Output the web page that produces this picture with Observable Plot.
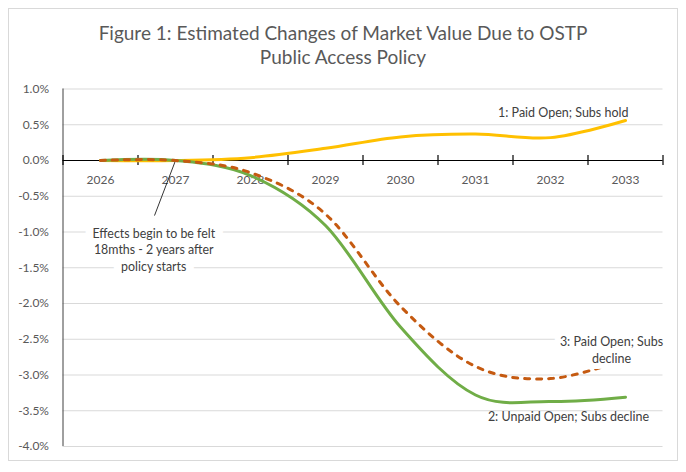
<!DOCTYPE html>
<html>
<head>
<meta charset="utf-8">
<script src="https://cdn.jsdelivr.net/npm/d3@7"></script>
<script src="https://cdn.jsdelivr.net/npm/@observablehq/plot@0.6"></script>
<style>
  html, body { margin: 0; padding: 0; background: #fff; }
  #wrap { position: relative; width: 686px; height: 472px; overflow: hidden; font-family: Lato, "Open Sans", sans-serif; }
  #border { position: absolute; left: 8px; top: 8px; width: 670px; height: 453px; border: 1px solid #d9d9d9; box-sizing: border-box; }
  #title { position: absolute; left: 0; top: 21px; width: 686px; text-align: center; font-size: 19px; line-height: 24px; color: #595959; }
  #chart { position: absolute; left: 0; top: 0; }
</style>
</head>
<body>
<div id="wrap">
  <div id="border"></div>
  <div id="chart"></div>
  <div id="title">Figure 1: Estimated Changes of Market Value Due to OSTP<br>Public Access Policy</div>
</div>
<script>
// ---- data (percent) ----
const years = [2026, 2027, 2028, 2029, 2030, 2031, 2032, 2033];
const paidOpenSubsHold = [0, 0, 0.04, 0.17, 0.33, 0.37, 0.32, 0.56];
const unpaidOpenSubsDecline = [0, 0, -0.21, -0.91, -2.33, -3.28, -3.37, -3.31];
const paidOpenSubsDecline = [0, 0, -0.17, -0.75, -2.04, -2.88, -3.05, -2.78];
const seriesNames = ["1: Paid Open; Subs hold", "2: Unpaid Open; Subs decline", "3: Paid Open; Subs decline"];
const seriesColors = ["#FFC000", "#70AD47", "#C55A11"];
const yTicks = [1, 0.5, 0, -0.5, -1, -1.5, -2, -2.5, -3, -3.5, -4];
const yearBoundaries = [2025.5, 2026.5, 2027.5, 2028.5, 2029.5, 2030.5, 2031.5, 2032.5, 2033.5];

// annotation
const noteText = "Effects begin to be felt\n18mths - 2 years after\npolicy starts";
const noteAnchor = {x: 2027, y: 0};
const noteEnd = {x: 2026.72, y: -0.77};
const noteLabel = {x: 2026.71, y: -1.235};
const label3Text = "3: Paid Open; Subs\ndecline";

const table = (vals, i) => years.map((yr, j) => ({year: yr, value: vals[j], series: seriesNames[i]}));
const s1 = table(paidOpenSubsHold, 0);
const s2 = table(unpaidOpenSubsDecline, 1);
const s3 = table(paidOpenSubsDecline, 2);

const grey = "#595959";
const noteOpts = {x: noteLabel.x, y: noteLabel.y, text: d => d, fontSize: 12.4, lineHeight: 1.33};
const label3Opts = {x: "year", y: "value", text: () => label3Text, dx: -14, dy: -10, fontSize: 12.5, lineHeight: 1.35};

const chart = Plot.plot({
  width: 686,
  height: 472,
  marginTop: 88.5,
  marginBottom: 26,
  marginLeft: 62.5,
  marginRight: 23.5,
  style: {fontFamily: "Lato, 'Open Sans', sans-serif", background: "transparent", color: grey},
  x: {domain: [2025.5, 2033.5], axis: null},
  y: {domain: [-4, 1], axis: null},
  marks: [
    Plot.gridY(yTicks, {stroke: "#d9d9d9", strokeOpacity: 1, strokeWidth: 1.2}),
    Plot.axisY(yTicks, {tickSize: 0, tickPadding: 14, fontSize: 12, fill: grey, label: null,
      tickFormat: d => d.toFixed(1) + "%"}),
    Plot.ruleX([2025.5], {y1: -4, y2: 1, stroke: "#404040", strokeWidth: 1}),
    Plot.ruleY([0], {stroke: "#000", strokeWidth: 1.2}),
    Plot.ruleX(yearBoundaries, {y1: -0.07, y2: 0.07, stroke: "#000", strokeWidth: 1.2}),
    Plot.text(years, {x: d => d, y: 0, dy: 20, text: d => String(d), fontSize: 12, fill: grey}),
    // annotation
    Plot.link([0], {x1: () => noteAnchor.x, y1: () => noteAnchor.y, x2: () => noteEnd.x, y2: () => noteEnd.y, stroke: "#000", strokeWidth: 0.8}),
    Plot.text([noteText], {...noteOpts, fill: "white", stroke: "white", strokeWidth: 16}),
    Plot.text([noteText], {...noteOpts, fill: "#404040"}),
    // series
    Plot.line(s1, {x: "year", y: "value", stroke: seriesColors[0], strokeWidth: 3, curve: "cardinal"}),
    Plot.line(s2, {x: "year", y: "value", stroke: seriesColors[1], strokeWidth: 3, curve: "cardinal"}),
    Plot.line(s3, {x: "year", y: "value", stroke: seriesColors[2], strokeWidth: 3, curve: "cardinal", strokeDasharray: "5,7", strokeLinecap: "round"}),
    // series labels
    Plot.text([s1[7]], {x: "year", y: "value", text: d => seriesNames[0], dx: 3, dy: -7, textAnchor: "end", fontSize: 12.5, fill: "#404040"}),
    Plot.text([s3[7]], {...label3Opts, fill: "white", stroke: "white", strokeWidth: 12}),
    Plot.text([s3[7]], {...label3Opts, fill: "#404040"}),
    Plot.text([s2[7]], {x: "year", y: "value", text: d => seriesNames[1], dx: -57, dy: 20, fontSize: 12.5, fill: "#404040"})
  ]
});
document.getElementById("chart").appendChild(chart);
</script>
</body>
</html>
